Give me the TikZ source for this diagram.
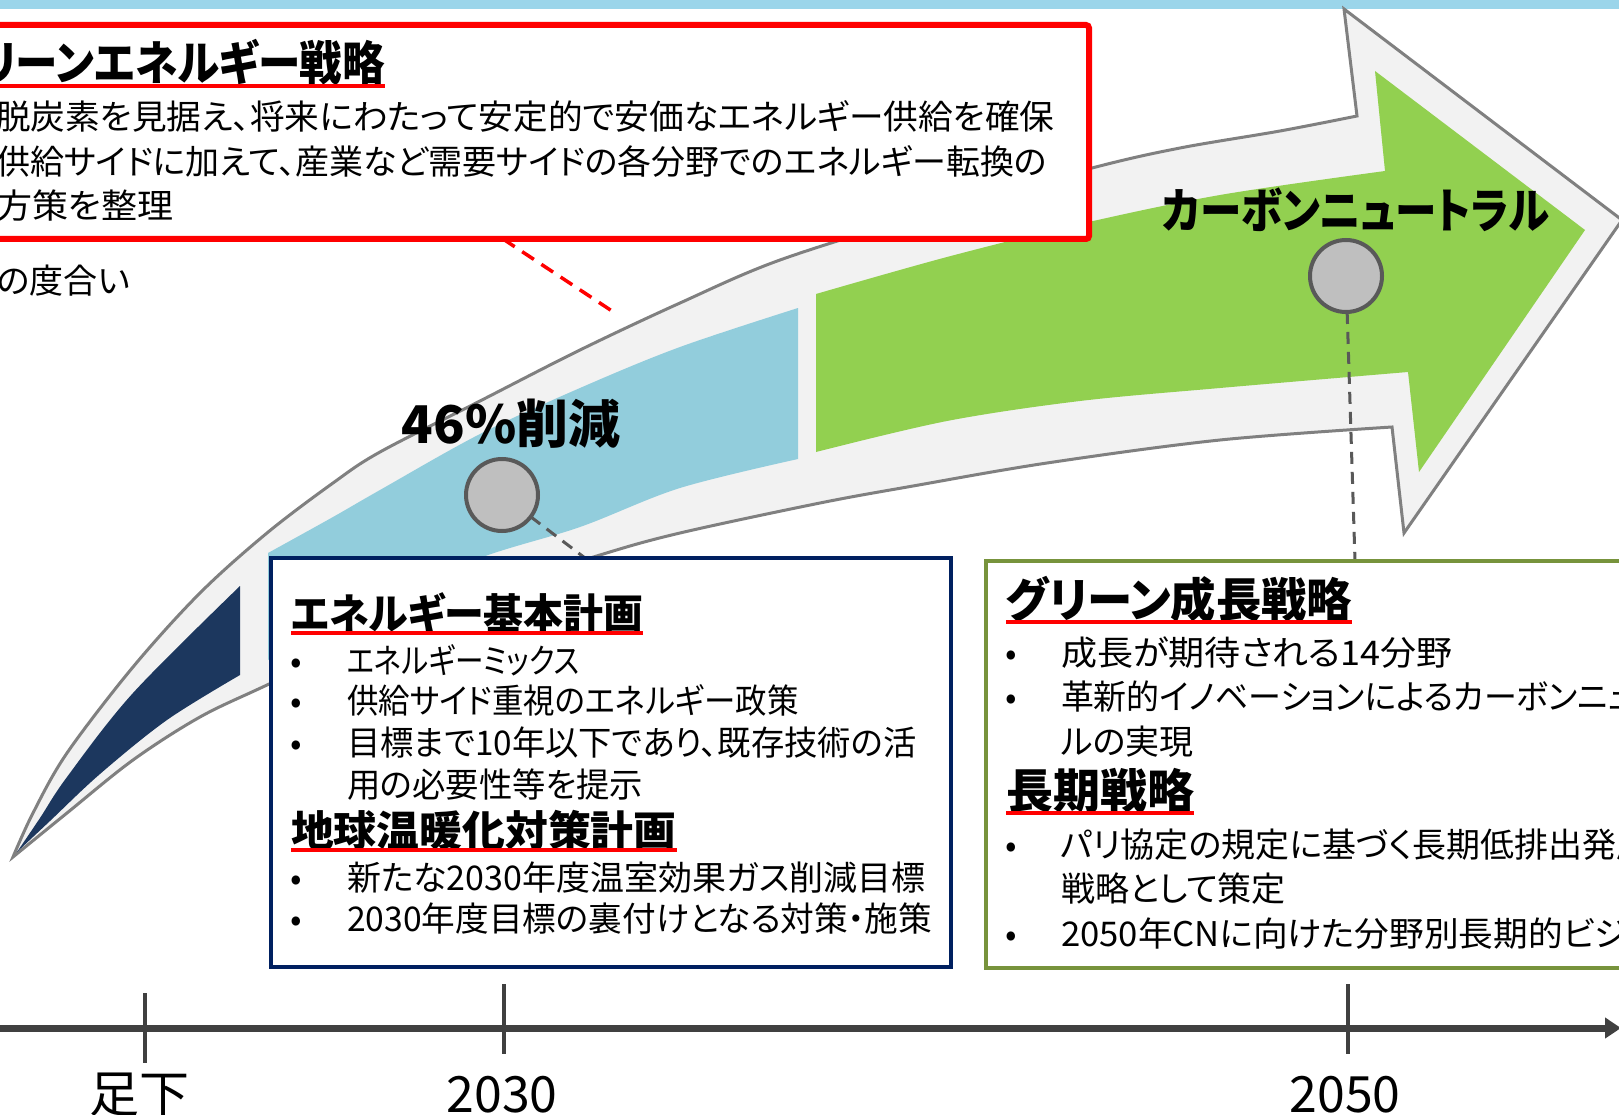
\documentclass[tikz,border=0pt]{standalone}
\usepackage{graphicx}
\usepackage{fontspec}
\setmainfont{Noto Sans CJK JP}[RawFeature=+palt]
\usetikzlibrary{arrows.meta}
\newcommand{\hsc}[2]{\scalebox{#1}[1]{#2}}
\definecolor{topband}{HTML}{9BD5EA}
\definecolor{navyfill}{HTML}{1C375E}
\definecolor{aquafill}{HTML}{92CDDC}
\definecolor{greenfill}{HTML}{92D050}
\definecolor{bandgray}{HTML}{F2F2F2}
\definecolor{outlinegray}{HTML}{808080}
\definecolor{dotgray}{HTML}{BFBFBF}
\definecolor{darkgray5}{HTML}{595959}
\definecolor{axisgray}{HTML}{404040}
\definecolor{boxnavy}{HTML}{002060}
\definecolor{boxolive}{HTML}{77933C}
\definecolor{pureRed}{HTML}{FF0000}
\tikzset{
  arrowout/.style={fill=bandgray, draw=outlinegray, line width=3pt, line join=miter},
  redbox/.style={draw=pureRed, line width=6pt, fill=white, rounded corners=3pt, inner sep=0pt, outer sep=0pt},
  bluebox/.style={draw=boxnavy, line width=3.5pt, fill=white, inner sep=0pt, outer sep=0pt},
  greenbox/.style={draw=boxolive, line width=3.5pt, fill=white, inner sep=0pt, outer sep=0pt},
  dot/.style={circle, draw=darkgray5, line width=4pt, fill=dotgray, minimum size=72pt, inner sep=0pt, outer sep=0pt},
  conn/.style={draw=darkgray5, line width=3pt, dash pattern=on 12pt off 8pt},
  reddash/.style={draw=pureRed, line width=3.5pt, dash pattern=on 14pt off 9pt},
  body/.style={anchor=base west, inner sep=0pt, outer sep=0pt, font=\fontsize{34}{40}\selectfont},
  bul/.style={anchor=base, inner sep=0pt, outer sep=0pt, font=\fontsize{34}{40}\selectfont},
  ttlb/.style={anchor=base west, inner sep=0pt, outer sep=0pt, font=\fontsize{42}{48}\selectfont\bfseries},
  ttlg/.style={anchor=base west, inner sep=0pt, outer sep=0pt, font=\fontsize{47}{52}\selectfont\bfseries},
  biglabel/.style={anchor=base, inner sep=0pt, outer sep=0pt, font=\fontsize{48}{54}\selectfont\bfseries},
  yr/.style={anchor=base, inner sep=0pt, outer sep=0pt, font=\fontsize{50}{56}\selectfont},
  uline/.style={draw=pureRed, line width=3.5pt},
  axisline/.style={draw=axisgray, line width=7pt, -{Triangle[length=16pt,width=20pt]}},
  tick/.style={draw=axisgray, line width=3.5pt}
}
\begin{document}
\begin{tikzpicture}[x=1pt,y=-1pt]
\useasboundingbox (0,0) rectangle (1619,1115);
\clip (0,0) rectangle (1619,1115);
\fill[white] (0,0) rectangle (1619,1115);
% top band
\fill[topband] (0,0) rectangle (1619,9);

% big curved arrow (outer)
\path[arrowout] plot[smooth, tension=0.55] coordinates {(13,857) (33,813) (67,753) (133,667) (200,593) (267,533) (333,483) (380,452) (480,401) (580,350) (680,303) (780,260) (930,213) (1092,168) (1180,148) (1280,131) (1357,116)}
  -- (1344,9) -- (1622,220) -- (1404,533) -- (1392,427)
  -- plot[smooth, tension=0.55] coordinates {(1392,427) (1220,440) (1047,463) (913,486) (820,503) (680,533) (600,555) (480,594) (380,632) (267,685) (200,717) (133,760) (67,813) (13,857)} -- cycle;

% navy segment
\fill[navyfill] plot[smooth, tension=0.55] coordinates {(17,852) (40,818) (67,777) (133,693) (240,586)}
  -- (240,675) -- plot[smooth, tension=0.55] coordinates {(240,675) (167,720) (100,774) (50,821) (17,852)} -- cycle;

% aqua segment
\fill[aquafill] plot[smooth, tension=0.55] coordinates {(268,553) (333,517) (380,490) (480,434) (580,388) (680,347) (798,308)}
  -- (798,459) -- plot[smooth, tension=0.55] coordinates {(798,459) (680,488) (580,527) (480,558) (380,603) (268,660)} -- cycle;

% green segment with head
\fill[greenfill] plot[smooth, tension=0.55] coordinates {(816,294) (947,257) (1080,224) (1220,195) (1385,171)}
  -- (1375,71) -- (1585,230) -- (1419,472) -- (1408,372)
  -- plot[smooth, tension=0.55] coordinates {(1408,372) (1220,388) (1080,401) (947,421) (816,452)} -- cycle;

% red dashed leader
\coordinate (rd1) at (503,239);
\coordinate (rd2) at (615,313);
\draw[reddash] (rd1) -- (rd2);

% red box
\node[redbox, minimum width=1130pt, minimum height=214pt, anchor=north east] (redbox) at (1089,25) {};
\node[ttlg] (rtitle) at (-20,81) {\hsc{0.905}{リーンエネルギー戦略}};
\draw[uline] ([yshift=-5pt]rtitle.base west) -- ([yshift=-5pt]rtitle.base east);
\node[body] (r1) at (-4,130) {\hsc{1.02}{脱炭素を見据え、将来にわたって安定的で安価なエネルギー供給を確保}};
\node[body] (r2) at (-4,175) {供給サイドに加えて、産業など需要サイドの各分野でのエネルギー転換の};
\node[body] (r3) at (-4,219) {\hsc{1.06}{方策を整理}};
\node[body] (r4) at (-3,294) {の度合い};

% milestone dots and labels
\node[biglabel, font=\fontsize{52}{58}\selectfont\bfseries] (l46) at (511,443) {46\%削減};
\node[dot] (c46) at (502,495) {};
\node[biglabel] (lcn) at (1356,229) {\hsc{0.865}{カーボンニュートラル}};
\node[dot] (ccn) at (1346,276) {};

\coordinate (k46) at (585,558);
\coordinate (kcn) at (1355,561);
\draw[conn] (c46) -- (k46);
\draw[conn] (ccn) -- (kcn);

% blue box
\node[bluebox, minimum width=680pt, minimum height=409pt, anchor=north west] (bbox) at (271,558) {};
\node[ttlb] (bt1) at (291,629) {\hsc{0.95}{エネルギー基本計画}};
\draw[uline] ([yshift=-4pt]bt1.base west) -- ([yshift=-4pt]bt1.base east);
\node[bul] at (296,673) {•};
\node[body] (bl1) at (347,673) {\hsc{0.84}{エネルギーミックス}};
\node[bul] at (296,713) {•};
\node[body] (bl2) at (347,713) {\hsc{0.925}{供給サイド重視のエネルギー政策}};
\node[bul] at (296,755) {•};
\node[body] (bl3) at (347,755) {\hsc{0.98}{目標まで10年以下であり、既存技術の活}};
\node[body] (bl4) at (347,797) {\hsc{0.98}{用の必要性等を提示}};
\node[ttlb] (bt2) at (291,846) {\hsc{1.02}{地球温暖化対策計画}};
\draw[uline] ([yshift=-4pt]bt2.base west) -- ([yshift=-4pt]bt2.base east);
\node[bul] at (296,890) {•};
\node[body] (bl5) at (347,890) {新たな2030年度温室効果ガス削減目標};
\node[bul] at (296,931) {•};
\node[body] (bl6) at (347,931) {\hsc{0.99}{2030年度目標の裏付けとなる対策・施策}};

% green box
\node[greenbox, minimum width=720pt, minimum height=407pt, anchor=north west] (gbox) at (986,561) {};
\node[ttlg] (gt1) at (1006,617) {\hsc{0.965}{グリーン成長戦略}};
\draw[uline] ([yshift=-5pt]gt1.base west) -- ([yshift=-5pt]gt1.base east);
\node[bul] at (1011,665) {•};
\node[body] (gl1) at (1061,665) {\hsc{1.06}{成長が期待される14分野}};
\node[bul] at (1011,709) {•};
\node[body] (gl2) at (1061,709) {\hsc{0.97}{革新的イノベーションによるカーボンニュートラ}};
\node[body] (gl3) at (1061,754) {ルの実現};
\node[ttlg] (gt2) at (1006,808) {長期戦略};
\draw[uline] ([yshift=-5pt]gt2.base west) -- ([yshift=-5pt]gt2.base east);
\node[bul] at (1011,857) {•};
\node[body] (gl4) at (1061,857) {パリ協定の規定に基づく長期低排出発展};
\node[body] (gl5) at (1061,901) {戦略として策定};
\node[bul] at (1011,946) {•};
\node[body] (gl6) at (1061,946) {\hsc{1.02}{2050年CNに向けた分野別長期的ビジョン}};

% timeline
\coordinate (ax0) at (0,1028);
\coordinate (ax1) at (1621,1028);
\draw[axisline] (ax0) -- (ax1);
\draw[tick] (145,993) -- (145,1063);
\draw[tick] (504,984) -- (504,1054);
\draw[tick] (1348,984) -- (1348,1054);
\node[yr] (y0) at (139,1112) {足下};
\node[yr] (y1) at (502,1112) {2030};
\node[yr] (y2) at (1345,1112) {2050};
\end{tikzpicture}
\end{document}
